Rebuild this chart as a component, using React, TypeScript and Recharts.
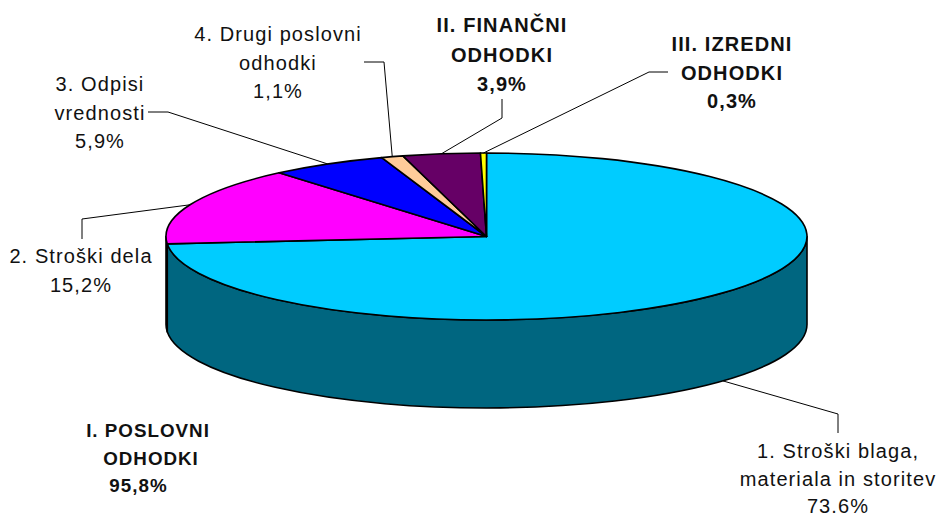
import { Pie, PieChart } from "recharts";

const categories = [
  "1. Stroški blaga, materiala in storitev",
  "2. Stroški dela",
  "3. Odpisi vrednosti",
  "4. Drugi poslovni odhodki",
  "II. FINANČNI ODHODKI",
  "III. IZREDNI ODHODKI",
];
const values = [73.6, 15.2, 5.9, 1.1, 3.9, 0.3];
const labelLines = [
  ["1. Stroški blaga,", "materiala in storitev", "73.6%"],
  ["2. Stroški dela", "15,2%"],
  ["3. Odpisi", "vrednosti", "5,9%"],
  ["4. Drugi poslovni", "odhodki", "1,1%"],
  ["II. FINANČNI", "ODHODKI", "3,9%"],
  ["III. IZREDNI", "ODHODKI", "0,3%"],
];
const boldLabels = [false, false, false, false, true, true];
const topColors = ["#00CCFF", "#FF00FF", "#0000FF", "#FFCC99", "#660066", "#FFFF00"];
const wallColors = ["#006680", "#800080", "#000080", "#806650", "#330033", "#808000"];

// where each label sits, and the two fixed points of its leader (label end, elbow)
const labelPos = [
  { x: 838, y: 458 },
  { x: 81, y: 263 },
  { x: 100, y: 91 },
  { x: 278, y: 41 },
  { x: 502, y: 32 },
  { x: 732, y: 51 },
];
const labelGap = [27.7, 28.6, 28.6, 28.6, 29.5, 28.6];
const leaderStart = [
  [838, 433],
  [82, 239],
  [148, 112],
  [364, 62],
  [502, 99],
  [668, 72],
];
const leaderElbow = [
  [838, 414],
  [82, 219],
  [168, 112],
  [384, 62],
  [502, 118],
  [649, 72],
];

const totalLines = ["I. POSLOVNI", "ODHODKI", "95,8%"];
const totalLineX = [148, 151, 138.5];

const W = 937;
const H = 518;
const CX = 486.5;
const CY = 236.5;
const RX = 320.5;
const RY = 83.5;
const DEPTH = 88;
const FONT = "'Liberation Sans', Arial, sans-serif";
const FONT_SIZE = 20;
const TRACKING = 1.1;

const data = categories.map((name, i) => ({
  name,
  value: values[i],
  fill: topColors[i],
  wall: wallColors[i],
}));

const rad = (a: number) => (a * Math.PI) / 180;
const px = (a: number) => CX + RX * Math.cos(rad(a));
const py = (a: number) => CY - RY * Math.sin(rad(a));

// Pie hands over circular sector angles, squash them into the tilted ellipse
function TiltedSector(props: any) {
  const { startAngle: s, endAngle: e, fill, wall } = props;
  const large = Math.abs(s - e) > 180 ? 1 : 0;
  const top = `M${CX},${CY} L${px(s)},${py(s)} A${RX},${RY} 0 ${large} 1 ${px(e)},${py(e)} Z`;
  const a = Math.min(s, 0);
  const b = Math.max(e, -180);
  const side =
    a > b
      ? `M${px(a)},${py(a)} A${RX},${RY} 0 0 1 ${px(b)},${py(b)} L${px(b)},${py(b) + DEPTH} A${RX},${RY} 0 0 0 ${px(a)},${py(a) + DEPTH} Z`
      : null;
  return (
    <g>
      {side && <path d={side} fill={wall} stroke="#000" strokeWidth={1.6} strokeLinejoin="round" />}
      <path d={top} fill={fill} stroke="#000" strokeWidth={1.6} strokeLinejoin="round" />
    </g>
  );
}

function Leader(props: any) {
  const { index, midAngle } = props;
  const onWall = Math.sin(rad(midAngle)) < 0;
  const pts = [
    leaderStart[index],
    leaderElbow[index],
    [px(midAngle), py(midAngle) + (onWall ? DEPTH : 0)],
  ];
  return (
    <polyline
      points={pts.map((p) => p.join(",")).join(" ")}
      fill="none"
      stroke="#000"
      strokeWidth={1}
    />
  );
}

function SliceLabel(props: any) {
  const { index } = props;
  const pos = labelPos[index];
  return (
    <text
      x={pos.x}
      y={pos.y}
      textAnchor="middle"
      fontFamily={FONT}
      fontSize={FONT_SIZE}
      fontWeight={boldLabels[index] ? 700 : 400}
      letterSpacing={TRACKING}
      fill="#111"
    >
      {labelLines[index].map((line, i) => (
        <tspan key={line} x={pos.x} y={pos.y + i * labelGap[index]}>
          {line}
        </tspan>
      ))}
    </text>
  );
}

export default function App() {
  return (
    <div style={{ position: "absolute", left: 0, top: 0, width: W, height: H, background: "#fff" }}>
      <PieChart width={W} height={H} margin={{ top: 0, right: 0, bottom: 0, left: 0 }}>
        <Pie
          data={data}
          dataKey="value"
          nameKey="name"
          cx={CX}
          cy={CY}
          outerRadius={RX}
          startAngle={90}
          endAngle={-270}
          paddingAngle={0}
          stroke="#000"
          shape={TiltedSector}
          label={SliceLabel}
          labelLine={Leader}
          isAnimationActive={false}
        />
        <text
          fontFamily={FONT}
          fontSize={18.8}
          fontWeight={700}
          letterSpacing={1}
          fill="#111"
          textAnchor="middle"
        >
          {totalLines.map((line, i) => (
            <tspan key={line} x={totalLineX[i]} y={437 + i * 27.5}>
              {line}
            </tspan>
          ))}
        </text>
      </PieChart>
    </div>
  );
}
